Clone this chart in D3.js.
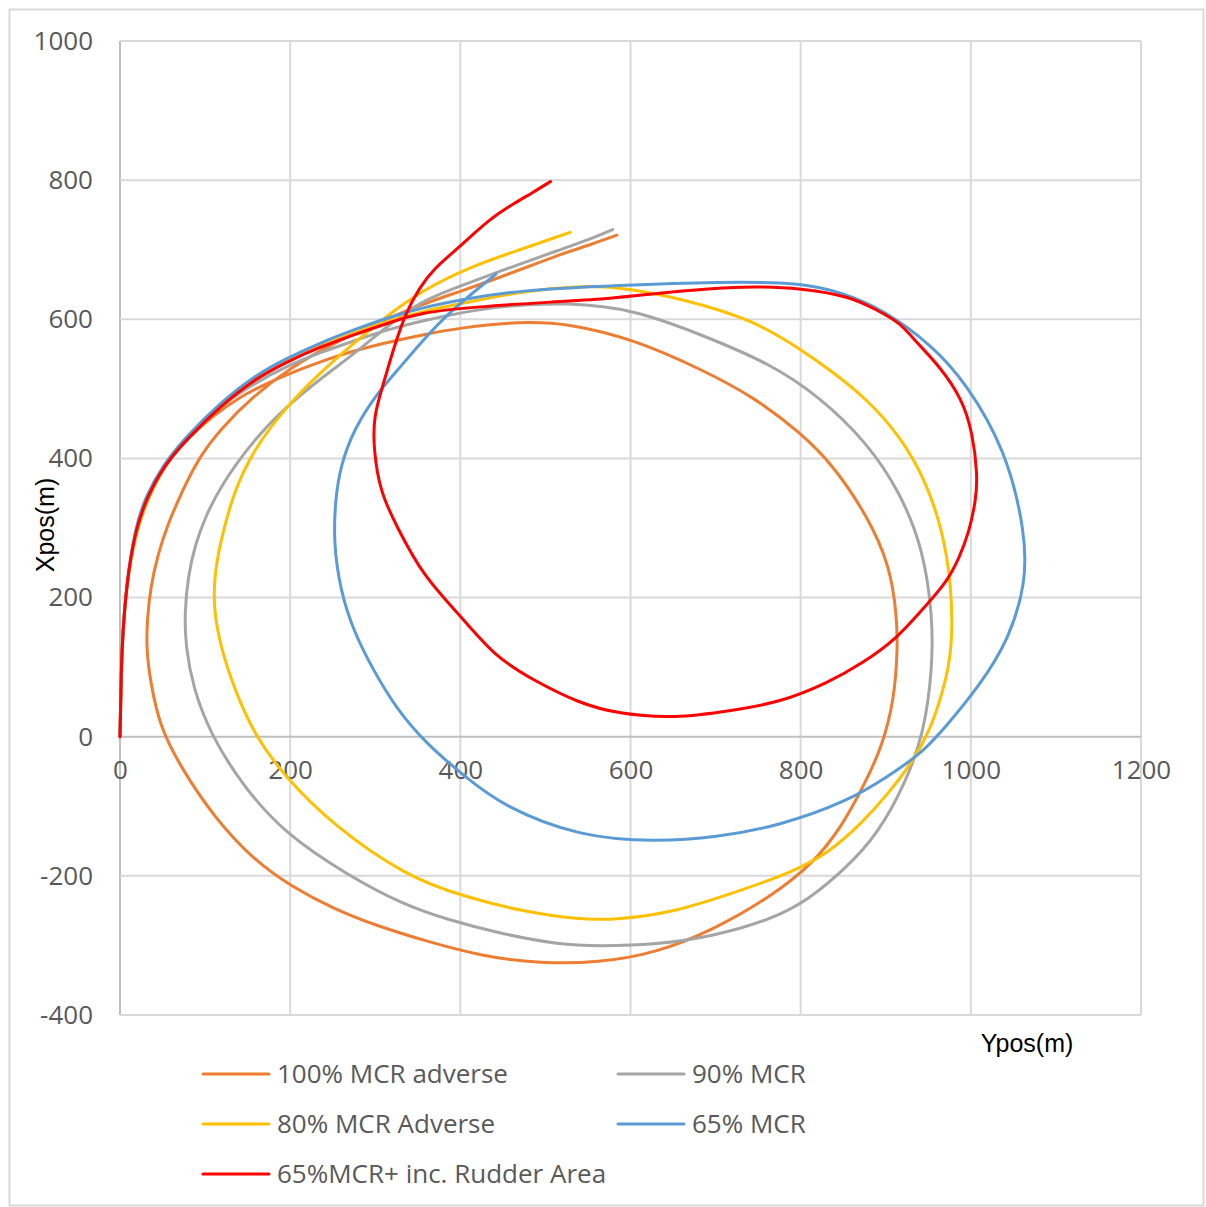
<!DOCTYPE html>
<html><head><meta charset="utf-8">
<script src="https://cdn.jsdelivr.net/npm/d3@7"></script>
<style>
html,body{margin:0;padding:0;background:#fff;}
svg{display:block;}
</style></head>
<body>
<svg id="chart" width="1206" height="1207"></svg>
<script>
// ---- data: [Ypos(m), Xpos(m)] pairs ----
const seriesNames = ["100% MCR adverse", "90% MCR", "80% MCR Adverse", "65% MCR", "65%MCR+ inc. Rudder Area"];

const mcr100Adverse = [[0,0],[1,60],[2,120],[5,180],[10,240],[20,300],[35,350],[55,395],[80,430],[110,462],[140,488],[176,510],[216,530],[255,548],[314,567],[353,577],[400,588],[470,597],[529,594],[607,570],[685,527],[744,489],[800,437],[839,389],[878,318],[905,246],[913,174],[914,125],[910,54],[896,-13],[876,-66],[849,-128],[815,-182],[765,-230],[697,-278],[630,-311],[562,-325],[495,-326],[427,-316],[360,-294],[300,-271],[252,-248],[201,-215],[157,-177],[110,-115],[71,-43],[47,14],[36,77],[31,125],[32,170],[36,215],[44,260],[56,305],[72,350],[92,400],[118,442],[157,490],[200,530],[250,565],[300,593],[353,621],[400,640],[446,660],[485,678],[524,696],[555,708],[584,721]];

const mcr90 = [[0,0],[1,60],[2,120],[5,180],[10,240],[20,300],[35,350],[55,395],[80,432],[110,468],[157,508],[200,535],[235,552],[275,569],[314,585],[353,597],[431,618],[529,625],[607,613],[685,577],[763,537],[822,489],[878,423],[917,351],[944,270],[955,174],[955,100],[945,5],[923,-67],[891,-139],[855,-187],[810,-234],[765,-263],[697,-287],[630,-299],[562,-301],[517,-299],[450,-284],[382,-262],[331,-240],[269,-200],[193,-139],[142,-67],[106,5],[86,70],[77,130],[76,180],[80,230],[88,275],[100,315],[118,360],[157,427],[196,475],[235,514],[275,550],[314,590],[353,626],[400,648],[460,675],[517,700],[550,714],[579,729]];

const mcr80Adverse = [[0,0],[1,60],[2,120],[5,180],[10,240],[20,300],[35,350],[55,395],[78,427],[118,475],[157,514],[196,540],[235,562],[275,581],[314,597],[353,611],[412,625],[470,640],[548,649],[595,645],[666,628],[744,599],[800,557],[839,523],[878,485],[917,432],[948,366],[967,294],[977,222],[979,126],[967,63],[951,6],[931,-37],[904,-80],[873,-123],[833,-167],[790,-195],[720,-225],[652,-252],[585,-263],[540,-263],[472,-251],[405,-230],[337,-201],[252,-129],[193,-57],[157,5],[134,70],[118,130],[110,185],[111,230],[117,275],[133,350],[157,413],[196,475],[235,523],[275,566],[314,605],[353,640],[410,675],[470,700],[529,725]];

const mcr65 = [[0,0],[1,60],[2,120],[5,180],[10,240],[18,300],[30,345],[50,390],[78,432],[118,480],[157,518],[196,544],[235,566],[275,585],[314,602],[353,616],[400,628],[470,642],[587,649],[705,654],[800,653],[850,638],[897,614],[955,562],[994,509],[1041,413],[1064,294],[1065,222],[1045,140],[1010,73],[971,15],[943,-23],[904,-56],[855,-93],[775,-128],[700,-145],[630,-151],[540,-144],[450,-100],[405,-57],[360,-10],[325,40],[298,95],[275,150],[259,210],[251,279],[253,340],[259,389],[275,442],[300,490],[325,525],[353,566],[390,614],[442,665]];

const mcr65Rudder = [[0,0],[1,60],[2,120],[5,180],[10,240],[19,300],[32,345],[52,390],[78,427],[118,475],[157,513],[196,539],[235,560],[275,578],[314,594],[353,610],[420,618],[509,625],[580,630],[627,637],[700,645],[744,647],[800,645],[858,633],[890,613],[917,595],[936,567],[963,533],[990,485],[1002,437],[1008,375],[1006,341],[998,294],[986,256],[971,221],[943,183],[912,140],[873,106],[833,78],[775,49],[720,38],[652,26],[585,33],[540,48],[486,81],[441,115],[403,170],[356,231],[325,303],[306,351],[298,413],[298,461],[310,509],[322,560],[336,610],[352,645],[368,672],[400,705],[434,744],[465,768],[485,782],[506,798]];

const allSeries = [mcr100Adverse, mcr90, mcr80Adverse, mcr65, mcr65Rudder];

const xTicks = [0, 200, 400, 600, 800, 1000, 1200];
const yTicks = [-400, -200, 0, 200, 400, 600, 800, 1000];

// ---- styles ----
const colors = ["#ED7D31", "#A5A5A5", "#FFC000", "#5B9BD5", "#FF0000"];
const labelFont = "'Open Sans', sans-serif";

const svg = d3.select("#chart");

// outer border
svg.append("rect").attr("x", 9.5).attr("y", 9.5).attr("width", 1194).attr("height", 1196)
  .attr("fill", "#fff").attr("stroke", "#d9d9d9").attr("stroke-width", 2);

const x = d3.scaleLinear().domain([0, 1200]).range([120, 1141]);
const y = d3.scaleLinear().domain([-400, 1000]).range([1015, 41]);

// gridlines
const grid = svg.append("g");
grid.selectAll("line.v").data(xTicks).join("line")
  .attr("x1", d => x(d)).attr("x2", d => x(d))
  .attr("y1", y(1000)).attr("y2", y(-400))
  .attr("stroke", d => d === 0 ? "#bfbfbf" : "#d9d9d9").attr("stroke-width", 2);
grid.selectAll("line.h").data(yTicks).join("line")
  .attr("x1", x(0)).attr("x2", x(1200))
  .attr("y1", d => y(d)).attr("y2", d => y(d))
  .attr("stroke", d => d === 0 ? "#bfbfbf" : "#d9d9d9").attr("stroke-width", 2);

// axes via d3 axis generators (tick labels only)
const fmt = d => String(d);
const yAxis = svg.append("g").attr("transform", `translate(${x(0)},0)`)
  .call(d3.axisLeft(y).tickValues(yTicks).tickSize(0).tickPadding(27).tickFormat(fmt));
const xAxis = svg.append("g").attr("transform", `translate(0,${y(0)})`)
  .call(d3.axisBottom(x).tickValues(xTicks).tickSize(0).tickPadding(24).tickFormat(fmt));
[xAxis, yAxis].forEach(g => {
  g.select(".domain").remove();
  g.selectAll("text").attr("fill", "#595959").style("font-family", labelFont).style("font-size", "26px");
});

// series
const line = d3.line().x(d => x(d[0])).y(d => y(d[1])).curve(d3.curveBasis);
svg.append("g").selectAll("path").data(allSeries).join("path")
  .attr("d", line).attr("fill", "none")
  .attr("stroke", (d, i) => colors[i]).attr("stroke-width", 3)
  .attr("stroke-linejoin", "round").attr("stroke-linecap", "round");

// axis titles
svg.append("text").attr("transform", "translate(54,525) rotate(-90)")
  .attr("text-anchor", "middle").attr("fill", "#000")
  .style("font-family", "'Liberation Sans', Arial, sans-serif").style("font-size", "25px")
  .text("Xpos(m)");
svg.append("text").attr("x", 1027).attr("y", 1052)
  .attr("text-anchor", "middle").attr("fill", "#000")
  .style("font-family", "'Liberation Sans', Arial, sans-serif").style("font-size", "25px")
  .text("Ypos(m)");

// legend
const legendPos = [[203, 1074], [618, 1074], [203, 1124], [618, 1124], [203, 1174]];
const leg = svg.append("g").selectAll("g").data(seriesNames).join("g")
  .attr("transform", (d, i) => `translate(${legendPos[i][0]},${legendPos[i][1]})`);
leg.append("line").attr("x1", 0).attr("x2", 66).attr("y1", 0).attr("y2", 0)
  .attr("stroke", (d, i) => colors[i]).attr("stroke-width", 3).attr("stroke-linecap", "round");
leg.append("text").attr("x", 74).attr("y", 0).attr("dy", "0.35em")
  .attr("fill", "#595959").style("font-family", labelFont).style("font-size", "26px")
  .text(d => d);
</script>
</body></html>
